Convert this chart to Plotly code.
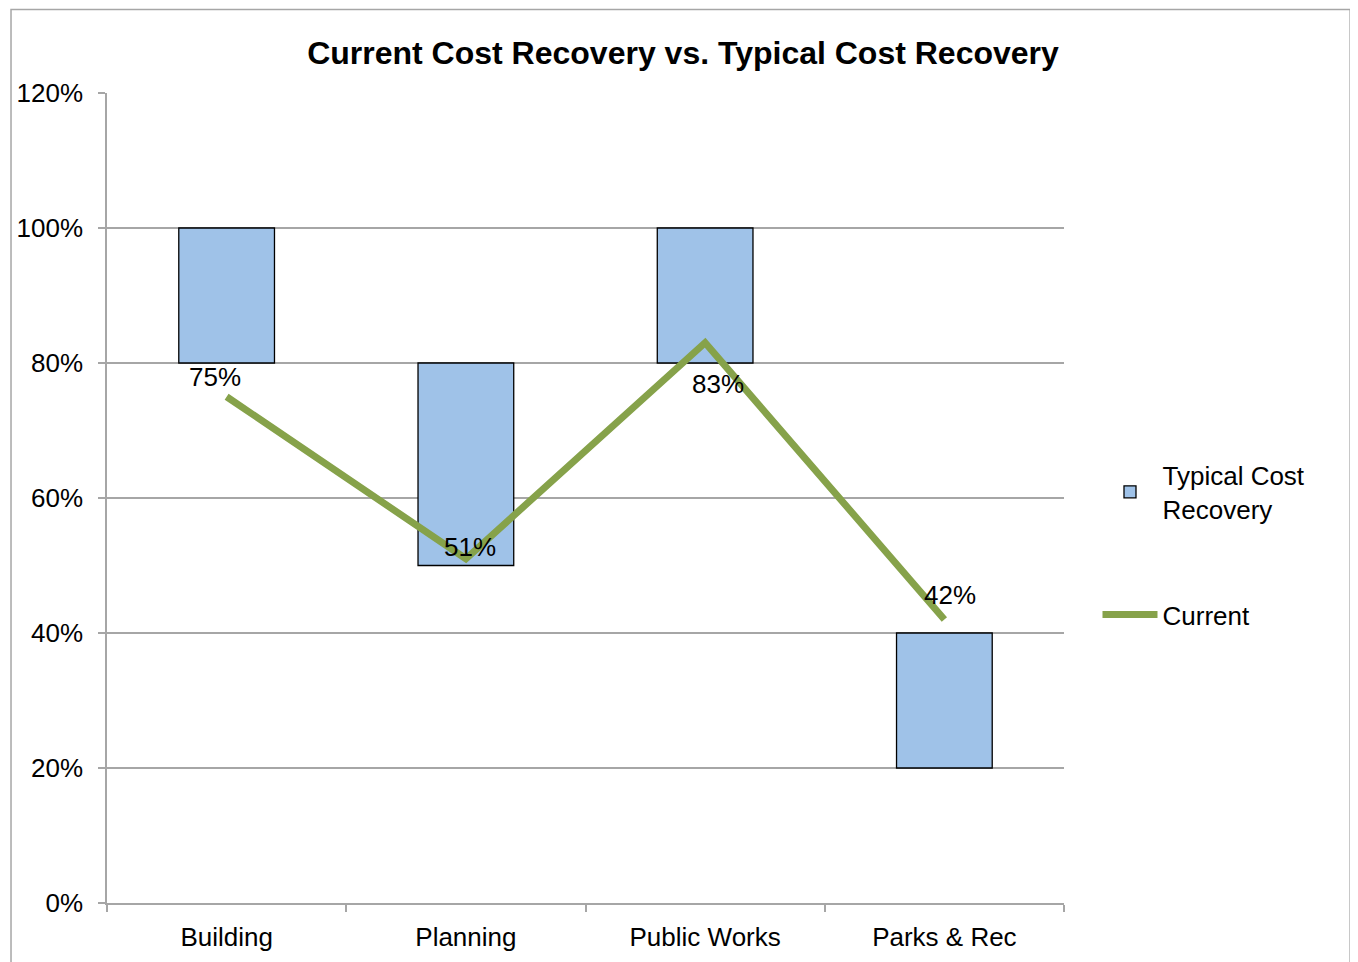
import plotly.graph_objects as go

categories = ["Building", "Planning", "Public Works", "Parks & Rec"]
typical_low = [80, 50, 80, 20]
typical_high = [100, 80, 100, 40]
current = [75, 51, 83, 42]
y_ticks = [0, 20, 40, 60, 80, 100, 120]

# label offsets for the "Current" data labels (pixels)
label_dx = [-12, 4, 13, 6]
label_dy = [20, 12, -41, 25]

FONT = "Liberation Sans, Arial, sans-serif"
GRID = "#A6A6A6"

fig = go.Figure()
fig.add_trace(go.Bar(
    x=categories, y=[h - l for h, l in zip(typical_high, typical_low)], base=typical_low,
    name="Typical Cost<br>Recovery", width=0.4,
    marker=dict(color="#9FC2E8", line=dict(color="black", width=1.3)),
    legendgroup="a",
))
fig.add_trace(go.Scatter(
    x=categories, y=current, mode="lines", name="Current",
    line=dict(color="#86A24A", width=7), legendgroup="b",
))

for cat, v, dx, dy in zip(categories, current, label_dx, label_dy):
    fig.add_annotation(x=cat, y=v, text=f"{v}%", showarrow=False,
                       xshift=dx, yshift=dy, font=dict(size=26, color="black", family=FONT))

# outer chart border
fig.add_shape(type="rect", xref="paper", yref="paper",
              x0=-0.1003, x1=1.299, y0=-0.3, y1=1.103,
              line=dict(color=GRID, width=1.5), fillcolor="rgba(0,0,0,0)", layer="below")

fig.update_layout(
    width=1350, height=954,
    margin=dict(l=99, r=294, t=85, b=59, autoexpand=False),
    paper_bgcolor="white", plot_bgcolor="white",
    font=dict(family=FONT, size=26, color="black"),
    title=dict(text="<b>Current Cost Recovery vs. Typical Cost Recovery</b>",
               x=675 / 1350, xanchor="center", y=1 - 45 / 954, yanchor="middle", yref="container",
               font=dict(size=32, family=FONT, color="black")),
    legend=dict(x=1.035, xanchor="left", y=0.442, yanchor="middle",
                font=dict(size=26, family=FONT), tracegroupgap=69, itemwidth=55,
                traceorder="grouped", bgcolor="rgba(0,0,0,0)"),
    bargap=0.6,
)
fig.update_xaxes(showgrid=False, showline=True, linecolor=GRID, linewidth=1.5,
                 ticks="outside", tickson="boundaries", ticklen=7, tickcolor=GRID,
                 tickwidth=1.5, tickfont=dict(size=26), ticklabelstandoff=10,
                 automargin=False)
fig.update_yaxes(range=[0, 120], tickvals=y_ticks, ticktext=[f"{t}%" for t in y_ticks],
                 showgrid=True, gridcolor=GRID, gridwidth=1.5, zeroline=False,
                 showline=True, linecolor=GRID, linewidth=1.5,
                 ticks="outside", ticklen=7, tickcolor=GRID, tickwidth=1.5,
                 tickfont=dict(size=26), ticklabelstandoff=10, automargin=False)

fig.write_html("out.html")
